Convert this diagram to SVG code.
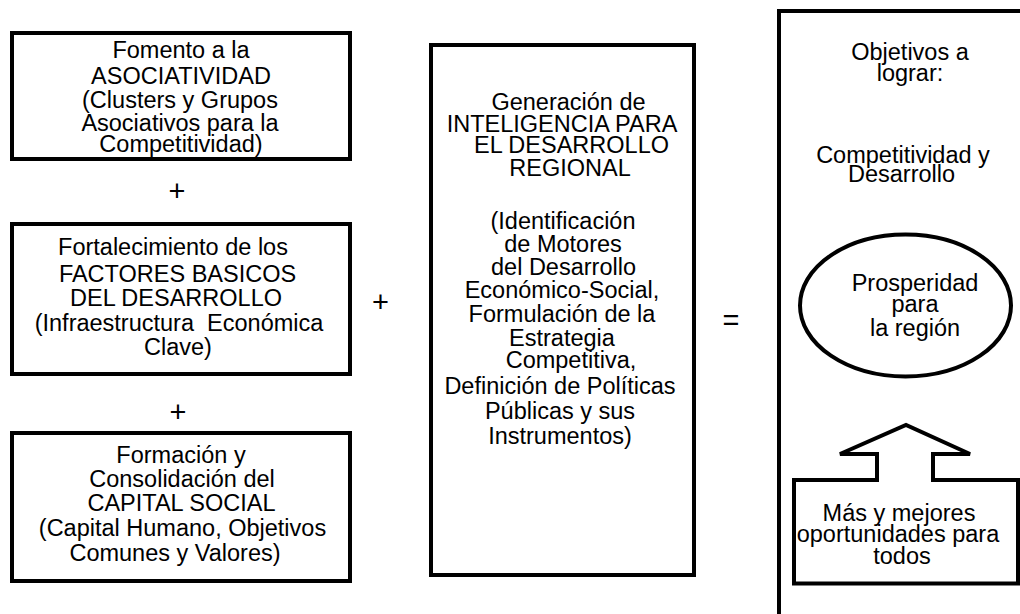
<svg xmlns="http://www.w3.org/2000/svg" width="1020" height="614" viewBox="0 0 1020 614">
<style>
.box{fill:#fff;stroke:#000;stroke-width:4}
.t{font-family:"Liberation Sans",Arial,sans-serif;font-size:23.5px;fill:#000;text-anchor:middle}
.op{font-family:"Liberation Sans",Arial,sans-serif;font-size:29px;fill:#000;text-anchor:middle}
</style>
<rect width="1020" height="614" fill="#fff"/>

<g id="asociatividad">
<rect class="box" x="12" y="33" width="338" height="126"/>
<text class="t" x="181" y="58">Fomento a la</text>
<text class="t" x="181" y="84">ASOCIATIVIDAD</text>
<text class="t" x="180" y="108">(Clusters y Grupos</text>
<text class="t" x="180" y="131">Asociativos para la</text>
<text class="t" x="181" y="152">Competitividad)</text>
</g>

<g id="factores">
<rect class="box" x="12" y="224" width="338" height="150"/>
<text class="t" x="173" y="255">Fortalecimiento de los</text>
<text class="t" x="177.5" y="282">FACTORES BASICOS</text>
<text class="t" x="176" y="306">DEL DESARROLLO</text>
<text class="t" x="179" y="331" style="white-space:pre">(Infraestructura  Económica</text>
<text class="t" x="178" y="355">Clave)</text>
</g>

<g id="capital">
<rect class="box" x="12" y="433" width="338" height="148"/>
<text class="t" x="181" y="463">Formación y</text>
<text class="t" x="182" y="487">Consolidación del</text>
<text class="t" x="181.5" y="511">CAPITAL SOCIAL</text>
<text class="t" x="182.5" y="536">(Capital Humano, Objetivos</text>
<text class="t" x="175" y="561">Comunes y Valores)</text>
</g>

<g id="inteligencia">
<rect class="box" x="431" y="45" width="263" height="530"/>
<text class="t" x="568.5" y="110">Generación de</text>
<text class="t" x="562" y="132">INTELIGENCIA PARA</text>
<text class="t" x="571.5" y="153">EL DESARROLLO</text>
<text class="t" x="570" y="176">REGIONAL</text>
<text class="t" x="563" y="229">(Identificación</text>
<text class="t" x="563" y="252">de Motores</text>
<text class="t" x="563.5" y="275">del Desarrollo</text>
<text class="t" x="562" y="298">Económico-Social,</text>
<text class="t" x="562" y="322">Formulación de la</text>
<text class="t" x="562" y="346">Estrategia</text>
<text class="t" x="571" y="368">Competitiva,</text>
<text class="t" x="560" y="394">Definición de Políticas</text>
<text class="t" x="560" y="419">Públicas y sus</text>
<text class="t" x="560" y="444">Instrumentos)</text>
</g>

<g id="objetivos">
<rect class="box" x="779" y="11" width="300" height="700"/>
<text class="t" x="910" y="60">Objetivos a</text>
<text class="t" x="910" y="81">lograr:</text>
<text class="t" x="903" y="163">Competitividad y</text>
<text class="t" x="901.5" y="182">Desarrollo</text>
</g>

<g id="prosperidad">
<ellipse class="box" cx="905.5" cy="305.5" rx="105.5" ry="71"/>
<text class="t" x="915" y="291">Prosperidad</text>
<text class="t" x="915" y="312">para</text>
<text class="t" x="915" y="336">la región</text>
</g>

<g id="oportunidades">
<path class="box" d="M794 480 L877 480 L877 454 L840 454 L906 425 L970 454 L933 454 L933 480 L1018 480 L1018 583.5 L794 583.5 Z"/>
<text class="t" x="899" y="521">Más y mejores</text>
<text class="t" x="898" y="542">oportunidades para</text>
<text class="t" x="902" y="564">todos</text>
</g>

<g id="connectors">
<text class="op" x="177" y="201">+</text>
<text class="op" x="178" y="422">+</text>
<text class="op" x="380.5" y="311.5">+</text>
<text class="op" x="731" y="330">=</text>
</g>
</svg>
